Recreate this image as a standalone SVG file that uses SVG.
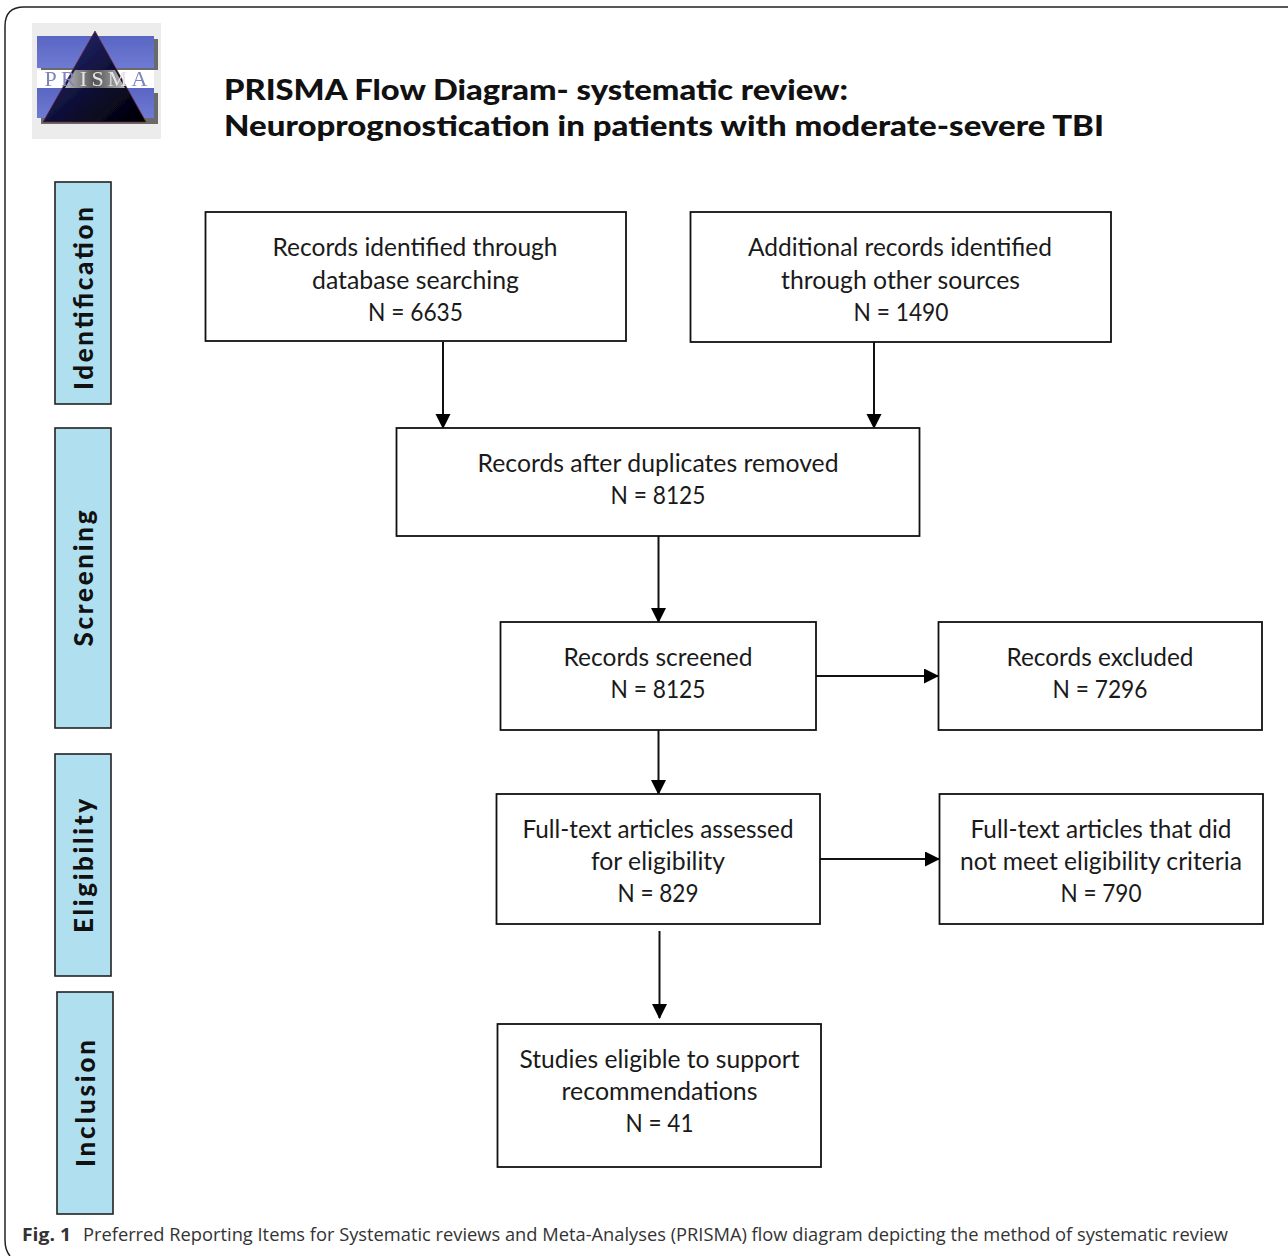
<svg xmlns="http://www.w3.org/2000/svg" width="1288" height="1256" viewBox="0 0 1288 1256">
<defs>
<style>
.box{fill:#fff;stroke:#111;stroke-width:1.8}
.band{fill:#b0dff0;stroke:#222;stroke-width:1.6}
.t{font-family:Lato,"Open Sans",sans-serif;font-size:25px;fill:#1a1a1a;text-anchor:middle}
.v{font-family:Lato,"Open Sans",sans-serif;font-size:26px;font-weight:900;fill:#111;text-anchor:middle}
.h{font-family:Lato,"Open Sans",sans-serif;font-size:28.500px;font-weight:900;fill:#111}
.c{font-family:"Open Sans","Noto Sans",sans-serif;font-size:18.500px;fill:#333}
.cn{stroke:#111;stroke-width:2;fill:none;marker-end:url(#a)}
</style>
<marker id="a" markerUnits="userSpaceOnUse" markerWidth="15" markerHeight="16" refX="14" refY="7.500" orient="auto"><path d="M0 0L15 7.500L0 15Z" fill="#000"/></marker>
<linearGradient id="bl" x1="0" y1="0" x2="0" y2="1"><stop offset="0" stop-color="#5a66c4"/><stop offset="1" stop-color="#6f7ad2"/></linearGradient>
<linearGradient id="tri" x1="0" y1="0" x2="1" y2="1"><stop offset="0" stop-color="#2a3080"/><stop offset="0.6" stop-color="#0c0c30"/><stop offset="1" stop-color="#000"/></linearGradient>
<linearGradient id="mid" x1="0" y1="0" x2="1" y2="0"><stop offset="0" stop-color="#b8b8b8"/><stop offset="0.5" stop-color="#555"/><stop offset="1" stop-color="#b8b8b8"/></linearGradient>
<filter id="b" x="-10%" y="-10%" width="120%" height="120%"><feGaussianBlur stdDeviation="0.7"/></filter>
</defs>
<path d="M24 7H1288M10 1256Q5 1250 5 1240V26Q5 7 24 7" fill="none" stroke="#222" stroke-width="1.5"/>
<g id="logo">
<rect x="32" y="23" width="129" height="116" fill="#ececec"/>
<g filter="url(#b)">
<rect x="41" y="39" width="117" height="31" fill="#333" opacity=".7"/>
<rect x="41" y="93" width="117" height="31" fill="#333" opacity=".7"/>
<rect x="37" y="36" width="117" height="32" fill="url(#bl)"/>
<rect x="37" y="70" width="117" height="18" fill="#fff"/>
<rect x="37" y="88" width="117" height="30" fill="url(#bl)"/>
<path d="M95 31L146 122H43Z" fill="url(#tri)" stroke="#6a2030" stroke-width=".7"/>
<path d="M75 70H115L125 88H65Z" fill="url(#mid)"/>
<text x="96" y="86" font-family="'Liberation Serif',serif" font-size="22" text-anchor="middle" textLength="103" lengthAdjust="spacing" fill="#7f84bc">PR<tspan fill="#e4e4e8">ISM</tspan>A</text>
</g>
</g>
<g id="title">
<text class="h" x="224" y="100" textLength="624" lengthAdjust="spacingAndGlyphs">PRISMA Flow Diagram- systematic review:</text>
<text class="h" x="224" y="136" textLength="880" lengthAdjust="spacingAndGlyphs">Neuroprognostication in patients with moderate-severe TBI</text>
</g>
<g id="connectors">
<path class="cn" d="M443 342V428"/>
<path class="cn" d="M874 342V428"/>
<path class="cn" d="M658.500 536V622"/>
<path class="cn" d="M658.500 730V794"/>
<path class="cn" d="M816 676H938"/>
<path class="cn" d="M820 859H939"/>
<path class="cn" d="M659.500 931V1018"/>
</g>
<g id="band-identification"><rect class="band" x="55" y="182" width="56" height="222"/><text class="v" transform="translate(93 298.500) rotate(-90)" textLength="183" lengthAdjust="spacing">Identification</text></g>
<g id="band-screening"><rect class="band" x="55" y="428" width="56" height="300"/><text class="v" transform="translate(93 578.500) rotate(-90)" textLength="136" lengthAdjust="spacing">Screening</text></g>
<g id="band-eligibility"><rect class="band" x="55" y="754" width="56" height="222"/><text class="v" transform="translate(93 866) rotate(-90)" textLength="134" lengthAdjust="spacing">Eligibility</text></g>
<g id="band-inclusion"><rect class="band" x="57" y="992" width="56" height="222"/><text class="v" transform="translate(95 1103.500) rotate(-90)" textLength="127" lengthAdjust="spacing">Inclusion</text></g>
<g id="n1"><rect class="box" x="205.500" y="212" width="420.500" height="129"/>
<text class="t" x="415" y="256" textLength="285" lengthAdjust="spacingAndGlyphs">Records identified through</text>
<text class="t" x="415.500" y="289" textLength="207" lengthAdjust="spacingAndGlyphs">database searching</text>
<text class="t" x="415.500" y="321" textLength="95" lengthAdjust="spacingAndGlyphs">N = 6635</text></g>
<g id="n2"><rect class="box" x="690.500" y="212" width="420.500" height="130"/>
<text class="t" x="900" y="256" textLength="304" lengthAdjust="spacingAndGlyphs">Additional records identified</text>
<text class="t" x="900.500" y="289" textLength="239" lengthAdjust="spacingAndGlyphs">through other sources</text>
<text class="t" x="901" y="321" textLength="95" lengthAdjust="spacingAndGlyphs">N = 1490</text></g>
<g id="n3"><rect class="box" x="396.500" y="428" width="523" height="108"/>
<text class="t" x="658" y="472" textLength="361" lengthAdjust="spacingAndGlyphs">Records after duplicates removed</text>
<text class="t" x="658" y="504" textLength="95" lengthAdjust="spacingAndGlyphs">N = 8125</text></g>
<g id="n4"><rect class="box" x="500.500" y="622" width="315.500" height="108"/>
<text class="t" x="658" y="666" textLength="189" lengthAdjust="spacingAndGlyphs">Records screened</text>
<text class="t" x="658" y="698" textLength="95" lengthAdjust="spacingAndGlyphs">N = 8125</text></g>
<g id="n5"><rect class="box" x="938.500" y="622" width="323.500" height="108"/>
<text class="t" x="1100" y="666" textLength="187" lengthAdjust="spacingAndGlyphs">Records excluded</text>
<text class="t" x="1100" y="698" textLength="95" lengthAdjust="spacingAndGlyphs">N = 7296</text></g>
<g id="n6"><rect class="box" x="496.500" y="794" width="323.500" height="130"/>
<text class="t" x="658" y="838" textLength="271" lengthAdjust="spacingAndGlyphs">Full-text articles assessed</text>
<text class="t" x="658" y="870" textLength="134" lengthAdjust="spacingAndGlyphs">for eligibility</text>
<text class="t" x="658" y="902" textLength="81" lengthAdjust="spacingAndGlyphs">N = 829</text></g>
<g id="n7"><rect class="box" x="939.500" y="794" width="323.500" height="130"/>
<text class="t" x="1101" y="838" textLength="261" lengthAdjust="spacingAndGlyphs">Full-text articles that did</text>
<text class="t" x="1101" y="870" textLength="282" lengthAdjust="spacingAndGlyphs">not meet eligibility criteria</text>
<text class="t" x="1101" y="902" textLength="81" lengthAdjust="spacingAndGlyphs">N = 790</text></g>
<g id="n8"><rect class="box" x="497.500" y="1024" width="323.500" height="143"/>
<text class="t" x="659.500" y="1068" textLength="280" lengthAdjust="spacingAndGlyphs">Studies eligible to support</text>
<text class="t" x="659.500" y="1100" textLength="196" lengthAdjust="spacingAndGlyphs">recommendations</text>
<text class="t" x="659.500" y="1132" textLength="68" lengthAdjust="spacingAndGlyphs">N = 41</text></g>
<g id="caption">
<text class="c" x="22" y="1241" font-weight="700" fill="#222" textLength="49" lengthAdjust="spacingAndGlyphs">Fig. 1</text>
<text class="c" x="83" y="1241" textLength="1145" lengthAdjust="spacingAndGlyphs">Preferred Reporting Items for Systematic reviews and Meta-Analyses (PRISMA) flow diagram depicting the method of systematic review</text>
</g>
</svg>
